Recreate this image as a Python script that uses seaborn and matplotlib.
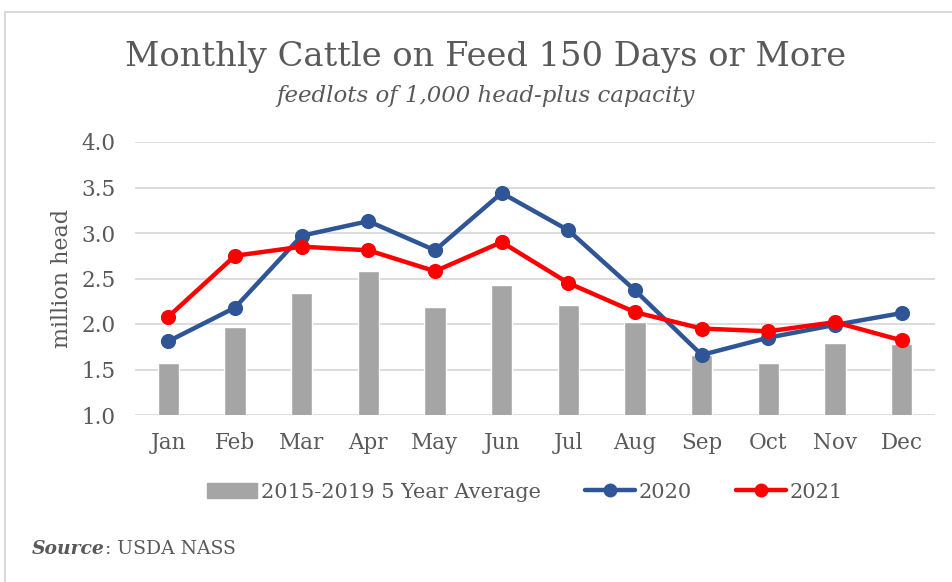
import matplotlib
matplotlib.use("Agg")
import matplotlib.pyplot as plt
import seaborn as sns
import pandas as pd
from matplotlib.patches import Patch, Rectangle
from matplotlib.lines import Line2D

months = ["Jan", "Feb", "Mar", "Apr", "May", "Jun", "Jul", "Aug", "Sep", "Oct", "Nov", "Dec"]
avg_5yr = [1.57, 1.97, 2.34, 2.58, 2.19, 2.43, 2.21, 2.02, 1.66, 1.57, 1.79, 1.78]
y2020 = [1.81, 2.18, 2.97, 3.13, 2.81, 3.44, 3.03, 2.37, 1.66, 1.85, 1.99, 2.12]
y2021 = [2.08, 2.75, 2.85, 2.81, 2.58, 2.90, 2.45, 2.13, 1.95, 1.92, 2.02, 1.82]
yticks = [1.0, 1.5, 2.0, 2.5, 3.0, 3.5, 4.0]

sns.set_style("white")
serif = ["DejaVu Serif", "Liberation Serif"]
plt.rcParams["font.family"] = serif

TXT = "#595959"
GRAY = "#A5A5A5"
BLUE = "#2F5597"
RED = "#FF0000"

fig = plt.figure(figsize=(9.52, 5.82), dpi=100)
fig.patches.append(Rectangle((5 / 952, -0.1), 1.2, (582 - 12) / 582 + 0.1,
                             transform=fig.transFigure, fill=False,
                             edgecolor="#D9D9D9", linewidth=1.5))
ax = fig.add_axes([135 / 952, (582 - 415) / 582, 800 / 952, (415 - 142) / 582])

df = pd.DataFrame({"month": months, "avg": avg_5yr, "y2020": y2020, "y2021": y2021})

sns.barplot(data=df, x="month", y="avg", order=months, color=GRAY, width=0.32,
            saturation=1, ax=ax, zorder=2)
sns.pointplot(data=df, x="month", y="y2020", order=months, color=BLUE,
              markers="o", markersize=8.5, linewidth=3.2, ax=ax, zorder=3)
sns.pointplot(data=df, x="month", y="y2021", order=months, color=RED,
              markers="o", markersize=8.5, linewidth=3.2, ax=ax, zorder=4)

ax.set_ylim(1.0, 4.0)
ax.set_xlim(-0.5, 11.5)
ax.set_yticks(yticks)
ax.set_yticklabels([f"{v:.1f}" for v in yticks])
ax.grid(axis="y", color="#D9D9D9", linewidth=1.3, zorder=0)
ax.set_axisbelow(True)
for s in ax.spines.values():
    s.set_visible(False)
ax.tick_params(axis="both", length=0, labelsize=15.5, labelcolor=TXT)
ax.tick_params(axis="x", pad=12)
ax.tick_params(axis="y", pad=14)
ax.set_xlabel("")
ax.set_ylabel("million head", fontsize=16, color=TXT, labelpad=6)

fig.text(486 / 952, 1 - 57 / 582, "Monthly Cattle on Feed 150 Days or More",
         ha="center", va="center", fontsize=24.3, color=TXT)
fig.text(486 / 952, 1 - 96 / 582, "feedlots of 1,000 head-plus capacity",
         ha="center", va="center", fontsize=16.5, color=TXT, style="italic")

handles = [
    Patch(facecolor=GRAY, edgecolor=GRAY),
    Line2D([0], [0], color=BLUE, lw=3.2, marker="o", markersize=9),
    Line2D([0], [0], color=RED, lw=3.2, marker="o", markersize=9),
]
labels = ["2015-2019 5 Year Average", "2020", "2021"]
leg = fig.legend(handles, labels, loc="center", bbox_to_anchor=(525 / 952, 1 - 492 / 582),
                 ncol=3, frameon=False, fontsize=15, handlelength=2.4,
                 columnspacing=2.1, handletextpad=0.2)
for t in leg.get_texts():
    t.set_color(TXT)

src = fig.text(32 / 952, 1 - 549 / 582, "Source", ha="left", va="center", fontsize=13.5,
               color=TXT, style="italic", weight="bold")
fig.canvas.draw()
bb = src.get_window_extent()
fig.text(bb.x1 / 952, 1 - 549 / 582, ": USDA NASS", ha="left", va="center", fontsize=13.5,
         color=TXT)

fig.savefig("out.png", dpi=100)
